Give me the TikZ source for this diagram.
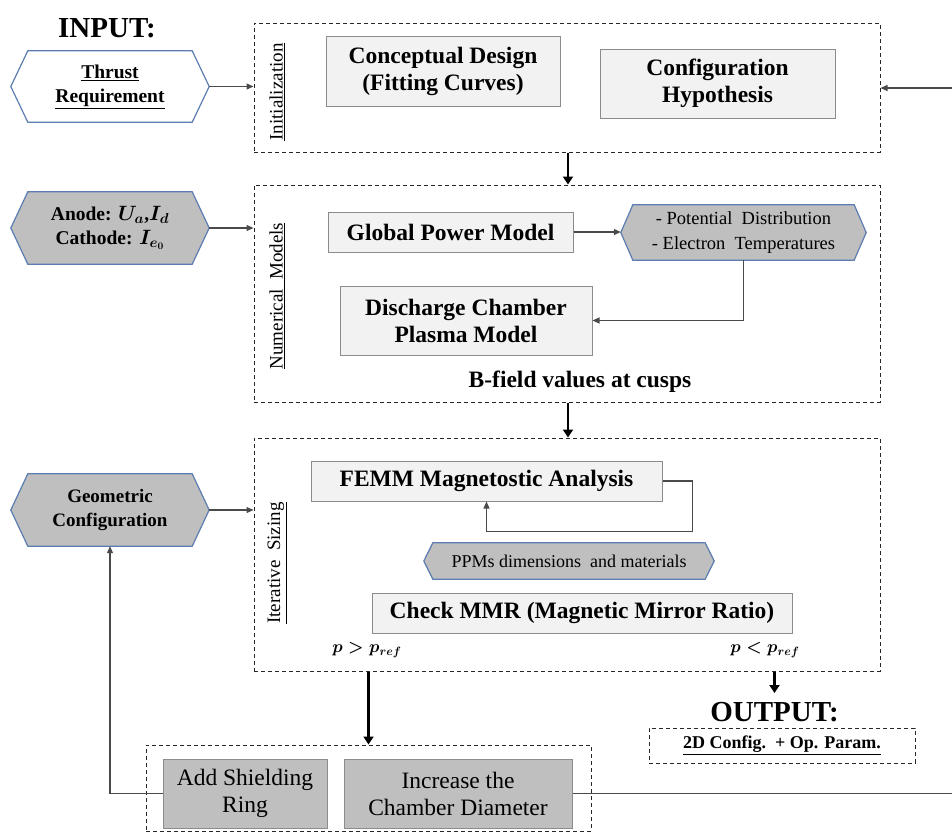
\documentclass[tikz,border=0pt]{standalone}
\usepackage{fontspec}
\setmainfont{Liberation Serif}
\usetikzlibrary{arrows.meta,calc,backgrounds}
\definecolor{hexblue}{HTML}{5B7DB1}
\definecolor{hexgray}{HTML}{BFBFBF}
\definecolor{boxfill}{HTML}{F2F2F2}
\definecolor{boxline}{HTML}{8C8C8C}
\definecolor{conn}{HTML}{4A4A4A}
\newcommand\hexshape[3]{\path[draw=hexblue, line width=1.2pt, fill=#3] ($(#1.north west)+(#2,0)$) -- ($(#1.north east)+(-#2,0)$) -- (#1.east) -- ($(#1.south east)+(-#2,0)$) -- ($(#1.south west)+(#2,0)$) -- (#1.west) -- cycle;}
\begin{document}
\begin{tikzpicture}[x=1pt,y=-1pt,
  dbox/.style={draw=black!85, line width=1pt, dash pattern=on 4pt off 3pt, inner sep=0pt},
  lbox/.style={draw=boxline, fill=boxfill, line width=1pt, inner sep=0pt, align=center, font=\bfseries\fontsize{23.5}{27}\selectfont},
  gbox/.style={draw=boxline, fill=hexgray, line width=1pt, inner sep=0pt, align=center, font=\fontsize{23.5}{27}\selectfont},
  hexnode/.style={inner sep=0pt, align=center},
  sidelbl/.style={rotate=90, inner sep=0pt, font=\fontsize{19}{22}\selectfont},
  plbl/.style={inner sep=0pt, font=\fontsize{18}{20}\selectfont\boldmath},
  title/.style={inner xsep=0pt, font=\bfseries\fontsize{29}{31}\selectfont},
  arr/.style={draw=conn, line width=1.2pt, -{Triangle[length=7pt,width=6pt]}},
  plain/.style={draw=conn, line width=1.2pt},
  bigarr/.style={draw=black, line width=2.2pt, -{Triangle[length=8pt,width=10pt]}}
]
\useasboundingbox (0,0) rectangle (952,833);

% dashed group boxes
\node[dbox, minimum width=626pt, minimum height=129pt] (init) at (567,87.5) {};
\node[dbox, minimum width=626pt, minimum height=217pt] (num) at (567,293.5) {};
\node[dbox, minimum width=626pt, minimum height=233pt] (iter) at (567,554.5) {};
\node[dbox, minimum width=445pt, minimum height=86pt] (shield) at (368.5,788) {};
\node[dbox, minimum width=266pt, minimum height=35pt, font=\bfseries\fontsize{18}{20}\selectfont] (outbox) at (782,745.5) {\underline{2D Config.\ \ + Op. Param.}};

% titles
\node[title] (inlbl) at (107,28) {INPUT:};
\node[title, inner ysep=9pt] (outlbl) at (774.5,712) {OUTPUT:};

% side labels
\node[sidelbl] (initlbl) at (277,92) {\underline{Initialization}};
\node[sidelbl] (numlbl) at (277,296) {\underline{Numerical\ \ Models}};
\node[sidelbl] (iterlbl) at (277,563) {\underline{Iterative\ \ Sizing}};

% light boxes
\node[lbox, minimum width=234pt, minimum height=70pt] (concept) at (443,71) {Conceptual Design\\(Fitting Curves)};
\node[lbox, minimum width=235pt, minimum height=69pt] (config) at (717.5,83.5) {Configuration\\Hypothesis};
\node[lbox, minimum width=245pt, minimum height=40pt] (gpm) at (450.5,232) {Global Power Model};
\node[lbox, minimum width=252pt, minimum height=69pt] (disch) at (466,320.5) {Discharge Chamber\\Plasma Model};
\node[lbox, minimum width=351pt, minimum height=40pt] (femm) at (486.5,481) {FEMM Magnetostic Analysis};
\node[lbox, minimum width=420pt, minimum height=40pt] (mmr) at (582,613) {Check MMR (Magnetic Mirror Ratio)};

% gray boxes
\node[gbox, minimum width=164pt, minimum height=69pt] (addring) at (245,793.5) {Add Shielding\\Ring};
\node[gbox, minimum width=228pt, minimum height=69pt] (incr) at (458,793.5) {Increase the\\Chamber Diameter};

% hexagon nodes
\node[hexnode, minimum width=198pt, minimum height=71pt, font=\bfseries\fontsize{19.5}{24}\selectfont] (thrust) at (110,86.5) {\underline{Thrust}\\\underline{Requirement}};
\node[hexnode, minimum width=198pt, minimum height=72pt, font=\bfseries\fontsize{19.5}{24}\selectfont\boldmath] (anode) at (110,228) {Anode: $U_a$,$I_d$\\Cathode: $I_{e_0}$};
\node[hexnode, minimum width=198pt, minimum height=72pt, font=\bfseries\fontsize{19}{24}\selectfont] (geom) at (110,510) {Geometric\\Configuration};
\node[hexnode, minimum width=245pt, minimum height=55pt, font=\fontsize{18.5}{25}\selectfont] (pot) at (743.5,232.5) {- Potential\ \ Distribution\\- Electron\ \ Temperatures};
\node[hexnode, minimum width=290pt, minimum height=36pt, font=\fontsize{18}{20}\selectfont] (ppm) at (569,561) {PPMs dimensions\ \ and materials};

\begin{scope}[on background layer]
\hexshape{thrust}{17}{white}
\hexshape{anode}{17}{hexgray}
\hexshape{geom}{17}{hexgray}
\hexshape{pot}{12}{hexgray}
\hexshape{ppm}{9}{hexgray}
\end{scope}

% other labels
\node[inner sep=0pt, font=\bfseries\fontsize{23.5}{27}\selectfont] (bfield) at (580,382) {B-field values at cusps};
\node[plbl] (pgt) at (367,650) {$p > p_{ref}$};
\node[plbl] (plt) at (765,650) {$p < p_{ref}$};

% free ends at the right edge
\coordinate (rin) at (952,88);
\coordinate (rout) at (952,793.5);

% connectors
\draw[arr] (thrust.east) -- (thrust.east -| init.west);
\draw[arr] (anode.east) -- (anode.east -| num.west);
\draw[arr] (geom.east) -- (geom.east -| iter.west);
\draw[arr] (rin) -- (rin -| init.east);
\draw[arr] (gpm.east) -- (gpm.east -| pot.west);
\draw[arr] (pot.south) |- (disch.east);
\draw[arr] (femm.east) -- ++(30,0) |- ($(femm.south)+(0,30)$) -- (femm.south);
\draw[arr] (addring.west) -| (geom.south);
\draw[plain] (incr.east) -- (rout);

\draw[bigarr] ([xshift=1pt]init.south) -- ([xshift=1pt]num.north);
\draw[bigarr] ([xshift=1pt]num.south) -- ([xshift=1pt]iter.north);
\draw[bigarr] (shield.north |- iter.south) -- (shield.north);
\draw[bigarr] (outlbl.north |- iter.south) -- (outlbl.north);
\end{tikzpicture}
\end{document}
